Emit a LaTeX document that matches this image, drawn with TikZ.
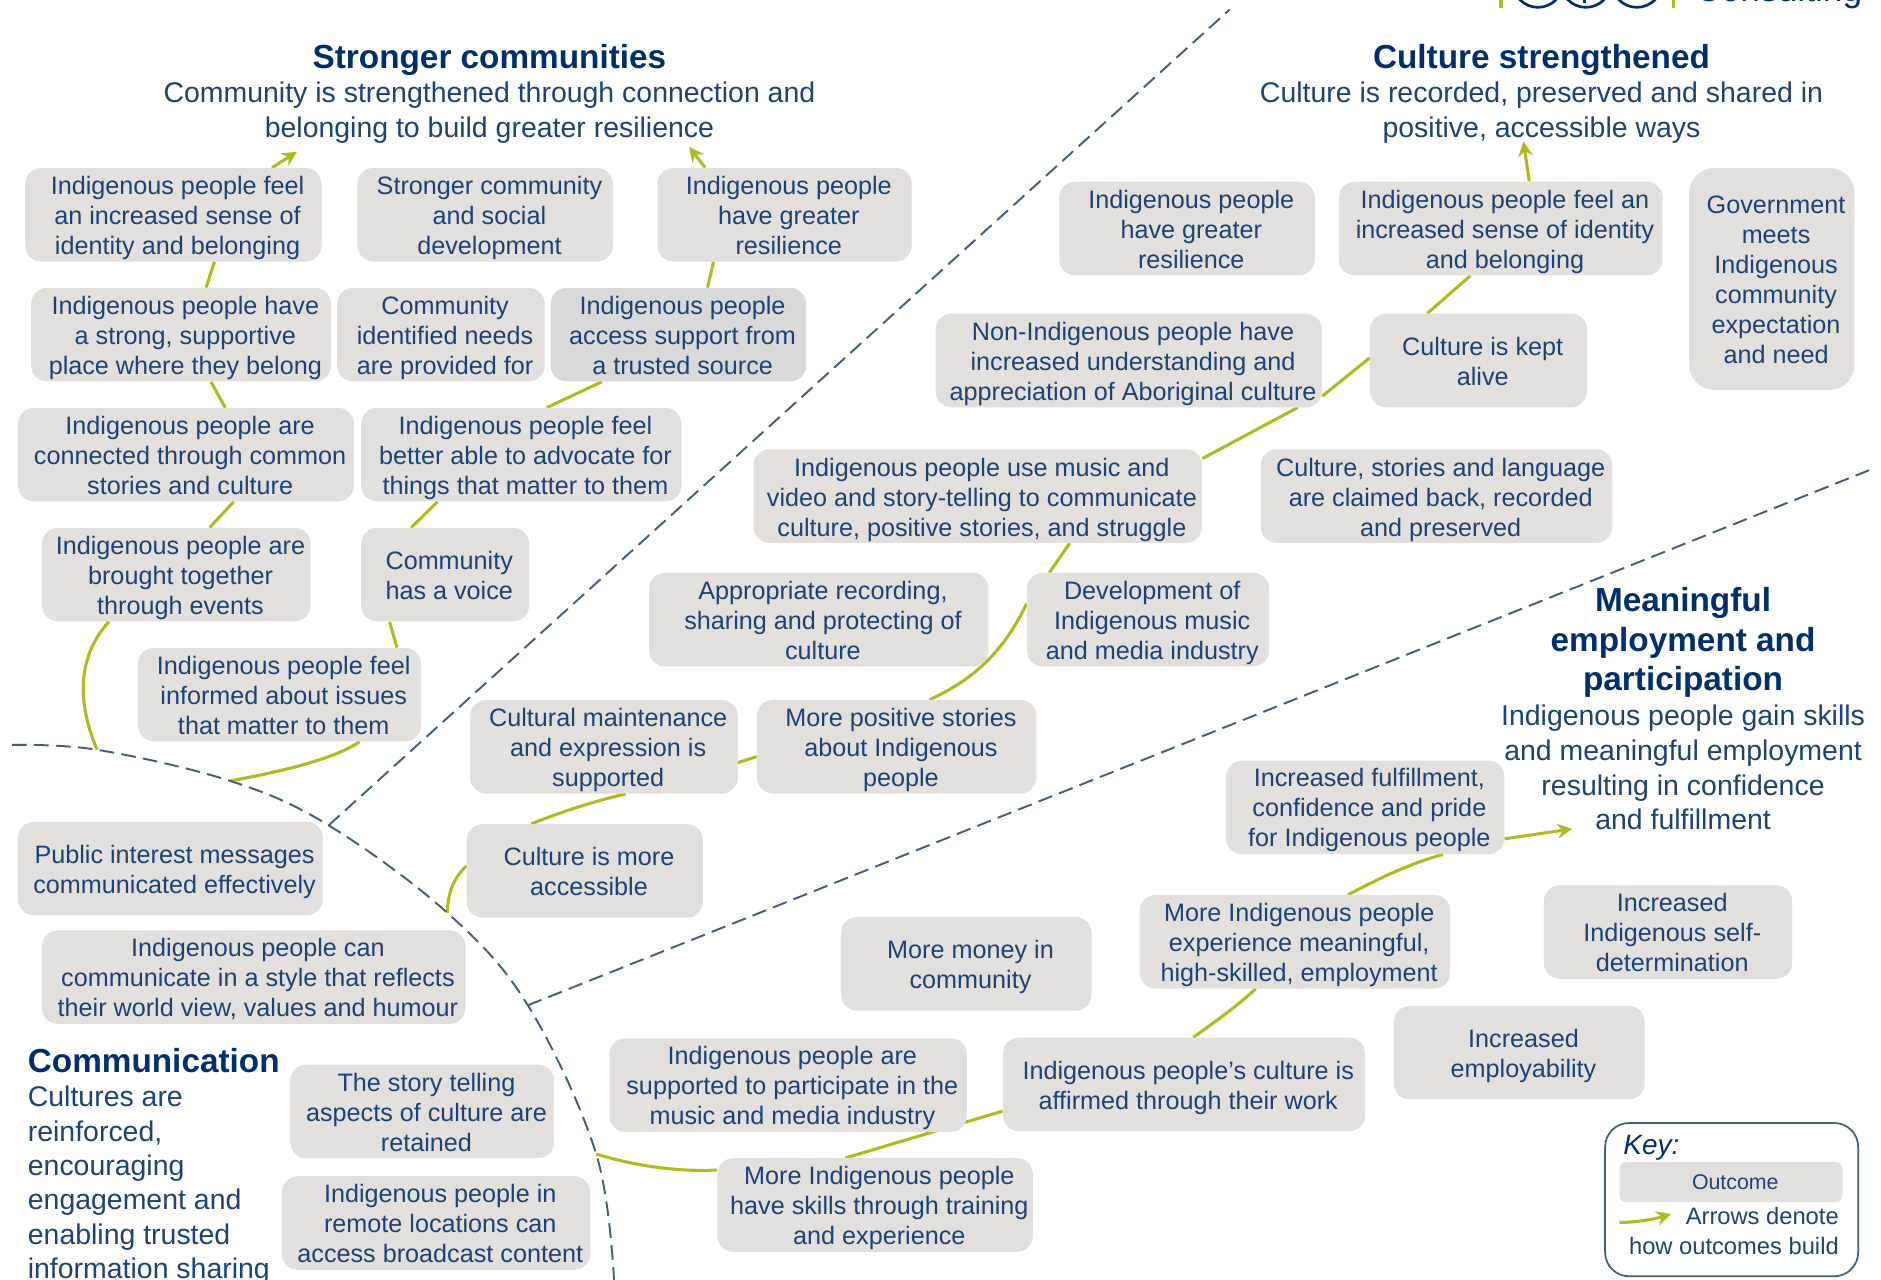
\documentclass[tikz,border=0pt]{standalone}
\usepackage{fontspec}
\setmainfont{Liberation Sans}
\usetikzlibrary{calc,backgrounds,arrows.meta}
\definecolor{navy}{HTML}{002F6C}
\definecolor{bodyblue}{HTML}{1C4376}
\definecolor{boxgrey}{HTML}{E2DFDC}
\definecolor{boxdark}{HTML}{D9D9D9}
\definecolor{olive}{HTML}{AFBB20}
\definecolor{dashblue}{HTML}{3F5F85}
% text lines of a box: moved right and by #1 down inside the node, leaving its size as it is
\newcommand{\ot}[2]{\hbox{\kern 3.15pt\vbox{\vskip\dimexpr #1+2.7pt\relax\hbox{\begin{tabular}{@{}c@{}}#2\end{tabular}}\vskip-\dimexpr #1+2.7pt\relax}\kern -3.15pt}}
\tikzset{
  x=0.9pt,y=-0.9pt,
  w/.style={minimum width=#1*0.9pt},
  ob/.style={fill=boxgrey,rounded corners=12pt,inner sep=0pt,minimum height=70.2pt,text=bodyblue,font=\fontsize{18.9}{22.5}\selectfont},
  conn/.style={draw=olive,line width=2.3pt},
  arr/.style={conn,-{Stealth[length=11pt,width=11pt]}},
  bound/.style={draw=dashblue,line width=1.45pt,dash pattern=on 11pt off 5.5pt},
  ttl/.style={text=navy,align=center,inner sep=0pt,font=\fontsize{25}{29.8}\selectfont\bfseries},
  sub/.style={text=bodyblue,align=center,inner sep=0pt,font=\fontsize{21.35}{26}\selectfont},
  logo/.style={draw=navy,line width=2pt},
  logobar/.style={fill=olive,draw=none}
}
\begin{document}
\begin{tikzpicture}
\useasboundingbox (0,0) rectangle (1568,1067);
% titles
\node[ttl] (tA) at (408,50) {Stronger communities};
\node[sub] (sA) at (408,94) {Community is strengthened through connection and\\belonging to build greater resilience};
\node[ttl] (tB) at (1285,50) {Culture strengthened};
\node[sub] (sB) at (1285,94) {Culture is recorded, preserved and shared in\\positive, accessible ways};
\node[ttl] (tC) at (1403,535.5) {Meaningful\\employment and\\participation};
\node[sub] (sC) at (1403,640) {Indigenous people gain skills\\and meaningful employment\\resulting in confidence\\and fulfillment};
\node[ttl,anchor=west] (tD) at (23,884) {Communication};
\node[sub,anchor=west,align=left,font=\fontsize{21.35}{25.75}\selectfont] (sD) at (23,988) {Cultures are\\reinforced,\\encouraging\\engagement and\\enabling trusted\\information sharing};
% Stronger communities
\node[ob,w=247] (A1) at (144.5,179) {\ot{0pt}{Indigenous people feel\\an increased sense of\\identity and belonging}};
\node[ob,w=213] (A2) at (404.5,179) {\ot{0pt}{Stronger community\\and social\\development}};
\node[ob,w=212] (A3) at (654,179) {\ot{0pt}{Indigenous people\\have greater\\resilience}};
\node[ob,w=250] (A4) at (151,279) {\ot{0pt}{Indigenous people have\\a strong, supportive\\place where they belong}};
\node[ob,w=173] (A5) at (367.5,279) {\ot{0pt}{Community\\identified needs\\are provided for}};
\node[ob,w=213,fill=boxdark] (A6) at (565.5,279) {\ot{0pt}{Indigenous people\\access support from\\a trusted source}};
\node[ob,w=280] (A7) at (155,379) {\ot{0pt}{Indigenous people are\\connected through common\\stories and culture}};
\node[ob,w=267] (A8) at (434.5,379) {\ot{0pt}{Indigenous people feel\\better able to advocate for\\things that matter to them}};
\node[ob,w=224] (A9) at (147,479) {\ot{0pt}{Indigenous people are\\brought together\\through events}};
\node[ob,w=140] (A10) at (371,479) {\ot{0pt}{Community\\has a voice}};
\node[ob,w=236] (A11) at (233,579) {\ot{0pt}{Indigenous people feel\\informed about issues\\that matter to them}};
% Culture strengthened
\node[ob,w=213] (B1) at (989.5,190.5) {\ot{0pt}{Indigenous people\\have greater\\resilience}};
\node[ob,w=270] (B2) at (1251,190.5) {\ot{0pt}{Indigenous people feel an\\increased sense of identity\\and belonging}};
\node[ob,w=138,minimum height=166.5pt,rounded corners=19pt] (B3) at (1477,232.5) {\ot{0pt}{Government\\meets\\Indigenous\\community\\expectation\\and need}};
\node[ob,w=322] (B4) at (941,300.5) {\ot{0pt}{Non-Indigenous people have\\increased understanding and\\appreciation of Aboriginal culture}};
\node[ob,w=181] (B5) at (1232.5,300.5) {\ot{0pt}{Culture is kept\\alive}};
\node[ob,w=374] (B6) at (815,413.5) {\ot{0.45pt}{Indigenous people use music and\\video and story-telling to communicate\\culture, positive stories, and struggle}};
\node[ob,w=293] (B7) at (1197.5,413.5) {\ot{0.45pt}{Culture, stories and language\\are claimed back, recorded\\and preserved}};
\node[ob,w=283] (B8) at (682.5,516.5) {\ot{0pt}{Appropriate recording,\\sharing and protecting of\\culture}};
\node[ob,w=202] (B9) at (957,516.5) {\ot{0pt}{Development of\\Indigenous music\\and media industry}};
\node[ob,w=223] (B10) at (503.5,622.5) {\ot{0pt}{Cultural maintenance\\and expression is\\supported}};
\node[ob,w=233] (B11) at (747.5,622.5) {\ot{0pt}{More positive stories\\about Indigenous\\people}};
\node[ob,w=197] (B12) at (487.5,726) {\ot{0pt}{Culture is more\\accessible}};
% Communication
\node[ob,w=254] (C1) at (142,724) {\ot{0pt}{Public interest messages\\communicated effectively}};
\node[ob,w=353] (C2) at (211.5,814.5) {\ot{0pt}{Indigenous people can\\communicate in a style that reflects\\their world view, values and humour}};
\node[ob,w=220] (C3) at (352,926.5) {\ot{0pt}{The story telling\\aspects of culture are\\retained}};
\node[ob,w=257] (C4) at (363.5,1019.5) {\ot{0pt}{Indigenous people in\\remote locations can\\access broadcast content}};
% Employment
\node[ob,w=232] (D1) at (1138,673) {\ot{0pt}{Increased fulfillment,\\confidence and pride\\for Indigenous people}};
\node[ob,w=259] (D2) at (1079.5,785) {\ot{0pt}{More Indigenous people\\experience meaningful,\\high-skilled, employment}};
\node[ob,w=209] (D3) at (805.5,803.5) {\ot{0pt}{More money in\\community}};
\node[ob,w=207] (D4) at (1390.5,777) {\ot{0pt}{Increased\\Indigenous self-\\determination}};
\node[ob,w=298] (D5) at (657,904.5) {\ot{0pt}{Indigenous people are\\supported to participate in the\\music and media industry}};
\node[ob,w=302] (D6) at (987,904) {\ot{0pt}{Indigenous people's culture is\\affirmed through their work}};
\node[ob,w=209] (D7) at (1266.5,877.5) {\ot{0pt}{Increased\\employability}};
\node[ob,w=263] (D8) at (729.5,1004.5) {\ot{0pt}{More Indigenous people\\have skills through training\\and experience}};
% key
\node[draw=dashblue,line width=1.3pt,rounded corners=18pt,minimum width=189.9pt,minimum height=115pt,inner sep=0pt] (K) at (1443.5,1000) {};
\node[anchor=west,inner sep=0pt,text=navy,font=\fontsize{21}{25}\selectfont\itshape] (Kt) at (1353,957) {Key:};
\node[ob,rounded corners=5pt,minimum width=167.4pt,minimum height=30pt,font=\fontsize{16}{20}\selectfont] (K1) at (1443,985.5) {\ot{-1pt}{Outcome}};
\node[anchor=east,inner sep=0pt,align=right,text=bodyblue,font=\fontsize{17.8}{22.5}\selectfont] (K2) at (1533,1026) {Arrows denote\\how outcomes build};
\coordinate (kA) at (1350,1019);
\coordinate (kB) at (1393,1012);
% boundaries
\coordinate (arcA) at (81,625);
\coordinate (arcB) at (192,651);
\coordinate (arcM) at (274,688);
\coordinate (arcC) at (373,761);
\coordinate (arcN) at (440,838);
\coordinate (arcD) at (497,962);
\draw[bound] plot[smooth,tension=0.6] coordinates {(10,621) (arcA) (arcB) (arcM) (arcC) (arcN) (arcD) (512,1070)};
\coordinate (endL) at (1025,8);
\coordinate (endR) at (1558,392);
\draw[bound] (arcM) -- (endL);
\draw[bound] (arcN) -- (endR);
% arrow tips
\coordinate (tipA) at (247.5,126.5);
\coordinate (tipB) at (574.5,122.5);
\coordinate (tipC) at (1270,118);
\coordinate (tipD) at (1310.5,691);
% connectors
\begin{pgfonlayer}{background}
\fill[white] (0,0) rectangle (1568,1067);
\draw[conn] (arcA) .. controls (66,590) and (62,550) .. ($(A9.south west)+(56,0)$);
\draw[conn] ($(A9.north west)+(140,0)$) -- ($(A7.south west)+(180,0)$);
\draw[conn] ($(A7.north west)+(173,0)$) -- ($(A4.south west)+(150,0)$);
\draw[conn] ($(A4.north west)+(146,0)$) -- ($(A1.south west)+(158,0)$);
\draw[arr] ($(A1.north west)+(206,0)$) -- (tipA);
\draw[conn] (arcB) .. controls (240,642) and (280,632) .. ($(A11.south west)+(185,0)$);
\draw[conn] ($(A11.north west)+(216,0)$) -- ($(A10.south west)+(24,0)$);
\draw[conn] ($(A10.north west)+(42,0)$) -- ($(A8.south west)+(64,0)$);
\draw[conn] ($(A8.north west)+(155,0)$) -- ($(A6.south west)+(43,0)$);
\draw[conn] ($(A6.north west)+(131,0)$) -- ($(A3.south west)+(47,0)$);
\draw[arr] ($(A3.north west)+(40,0)$) -- (tipB);
\draw[conn] (arcC) .. controls (373,745) and (378,732) .. ($(B12.north west)+(0,35)$);
\draw[conn] ($(B12.north west)+(54,0)$) .. controls (470,676) and (495,668) .. ($(B10.south west)+(130,0)$);
\draw[conn] ($(B10.south east)+(0,-26)$) -- ($(B11.south west)+(0,-31)$);
\draw[conn] ($(B11.north west)+(144,0)$) .. controls (815,565) and (838,540) .. ($(B9.north west)+(0,26)$);
\draw[conn] ($(B9.north west)+(19,0)$) -- ($(B6.south west)+(264,0)$);
\draw[conn] ($(B6.north east)+(0,8)$) -- ($(B4.south west)+(302,0)$);
\draw[conn] ($(B4.north east)+(0,69)$) -- ($(B5.north west)+(0,37)$);
\draw[conn] ($(B5.north west)+(48,0)$) -- ($(B2.south west)+(110,0)$);
\draw[arr] ($(B2.north west)+(159,0)$) -- (tipC);
\draw[conn] (arcD) .. controls (530,972) and (565,977) .. ($(D8.north west)+(0,10)$);
\draw[conn] ($(D8.north west)+(107,0)$) -- ($(D6.south west)+(0,-17)$);
\draw[conn] ($(D6.north west)+(159,0)$) .. controls (1018,848) and (1032,838) .. ($(D2.south west)+(97,0)$);
\draw[conn] ($(D2.north west)+(174,0)$) .. controls (1150,732) and (1175,720) .. ($(D1.south west)+(181,0)$);
\draw[arr] ($(D1.south east)+(0,-13)$) -- (tipD);
\draw[arr] (kA) .. controls (1365,1019) and (1380,1016) .. (kB);
\end{pgfonlayer}
% logo fragment
\fill[logobar] (1249.5,-2) rectangle (1252.6,7);
\fill[logobar] (1393.5,-2) rectangle (1396.6,7);
\node[circle,logo,minimum size=38pt,inner sep=0pt] (L1) at (1282,-15) {};
\node[circle,logo,minimum size=38pt,inner sep=0pt] (L2) at (1322,-15) {};
\node[circle,logo,minimum size=38pt,inner sep=0pt] (L3) at (1364.5,-15) {};
\draw[logo] (1321,-1) -- (1321,2.5);
\node[anchor=base west,inner sep=0pt,text=navy,font=\fontsize{26.5}{30}\selectfont] (L4) at (1413,1) {Consulting};
\end{tikzpicture}
\end{document}
